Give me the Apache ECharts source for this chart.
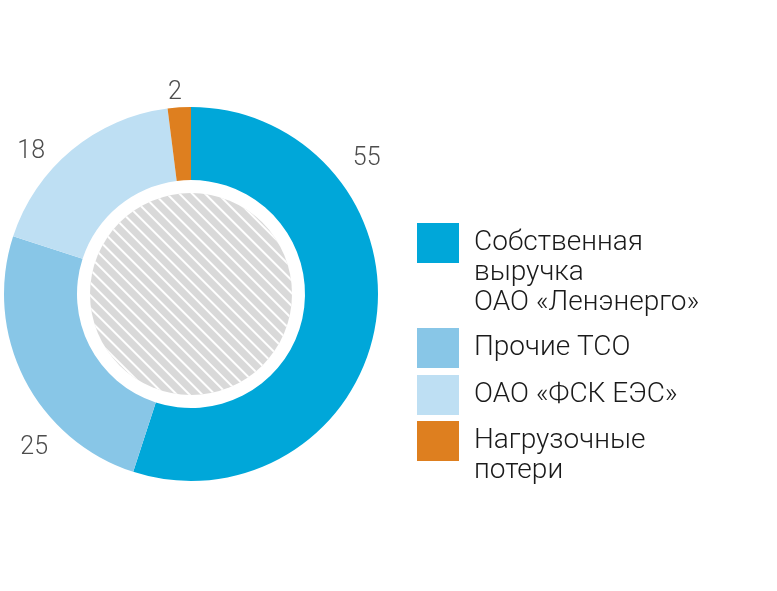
<!DOCTYPE html>
<html>
<head>
<meta charset="utf-8">
<script src="https://cdn.jsdelivr.net/npm/echarts@6/dist/echarts.min.js"></script>
<style>
html,body{margin:0;padding:0;background:#fff;}
#chart{width:777px;height:591px;}
</style>
</head>
<body>
<div id="chart"></div>
<script>
// ---- data ----
var categories = ['Собственная\nвыручка\nОАО «Ленэнерго»', 'Прочие ТСО', 'ОАО «ФСК ЕЭС»', 'Нагрузочные\nпотери'];
var values = [55, 25, 18, 2];
var colors = ['#00a7d9', '#88c6e7', '#bedff3', '#de7f1f'];

// ---- layout / style config ----
var CENTER = [191, 294];
var FONT = 'Roboto, "Noto Sans", sans-serif';
// label placement (radius px, angle deg clockwise from top)
var labelPolar = [[223, 52], [218, 226], [215, 312], [204, 355.5]];
var LABEL_DY = 2;
var legendTops = [168, 328, 375, 396];
var LINE_H = 30;

var chart = echarts.init(document.getElementById('chart'));

var legends = categories.map(function (name, i) {
  var lines = name.split('\n').length;
  return {
    orient: 'vertical',
    left: 417,
    top: legendTops[i],
    padding: 0,
    itemWidth: 42,
    itemHeight: 40,
    icon: 'rect',
    selectedMode: false,
    data: [name],
    // first line centred on the swatch: pad with empty lines above
    formatter: function (n) {
      return new Array(lines).join('\n') + n;
    },
    textStyle: {
      fontFamily: FONT,
      fontWeight: 300,
      fontSize: 28,
      lineHeight: LINE_H,
      color: '#1a1a1a',
      padding: [0, 0, 0, 10]
    }
  };
});

chart.setOption({
  backgroundColor: '#ffffff',
  animation: false,
  color: colors,
  legend: legends,
  series: [
    {
      type: 'pie',
      center: CENTER,
      radius: [114, 187],
      startAngle: 90,
      clockwise: true,
      silent: true,
      avoidLabelOverlap: false,
      label: {
        show: true,
        position: 'outside',
        formatter: '{c}',
        fontFamily: FONT,
        fontWeight: 300,
        fontSize: 25,
        color: '#4d4d4d'
      },
      labelLine: { show: false },
      labelLayout: function (params) {
        var p = labelPolar[params.dataIndex];
        var a = p[1] * Math.PI / 180;
        return {
          x: CENTER[0] + p[0] * Math.sin(a),
          y: CENTER[1] - p[0] * Math.cos(a) + LABEL_DY,
          align: 'center',
          verticalAlign: 'middle'
        };
      },
      itemStyle: { borderWidth: 0 },
      data: categories.map(function (c, i) {
        return { name: c, value: values[i], itemStyle: { color: colors[i] } };
      })
    },
    {
      type: 'pie',
      center: CENTER,
      radius: [0, 101],
      silent: true,
      label: { show: false },
      labelLine: { show: false },
      data: [{
        name: 'hatch',
        value: 1,
        itemStyle: {
          color: '#d9d9d9',
          decal: {
            symbol: 'rect',
            symbolSize: 1,
            dashArrayX: [1, 0],
            dashArrayY: [2, 7],
            rotation: Math.PI / 4,
            color: '#ffffff'
          }
        }
      }]
    }
  ]
});
</script>
</body>
</html>
